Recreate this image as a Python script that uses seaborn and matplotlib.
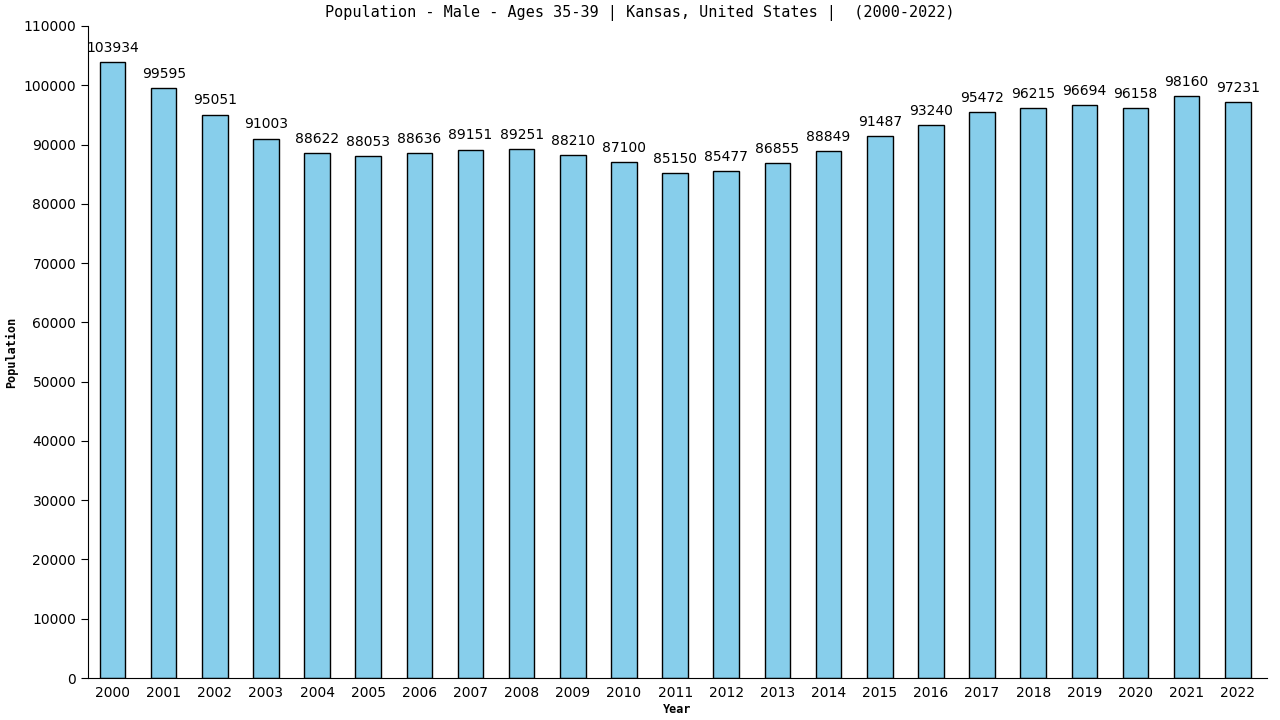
import pandas as pd
import matplotlib
matplotlib.use("Agg")
import matplotlib.pyplot as plt
import seaborn as sns

years = [str(y) for y in range(2000, 2023)]
population = [103934, 99595, 95051, 91003, 88622, 88053, 88636, 89151, 89251, 88210,
              87100, 85150, 85477, 86855, 88849, 91487, 93240, 95472, 96215, 96694,
              96158, 98160, 97231]

df = pd.DataFrame({"Year": years, "Population": population})

sns.set_style("ticks")
plt.rcParams['font.family'] = ['DejaVu Sans']
plt.rcParams['text.color'] = 'black'
plt.rcParams['axes.labelcolor'] = 'black'
plt.rcParams['xtick.color'] = 'black'
plt.rcParams['ytick.color'] = 'black'
plt.rcParams['axes.edgecolor'] = 'black'

fig = plt.figure(figsize=(12.8, 7.2), dpi=100)
ax = fig.add_axes([0.06875, 0.0583, 0.921, 0.9056])

sns.barplot(data=df, x="Year", y="Population", color="#87CEEB", edgecolor="black",
            linewidth=1, width=0.5, saturation=1, ax=ax)

for i, v in enumerate(population):
    ax.text(i, v + 1200, str(v), ha="center", va="bottom", fontsize=10, color="black")

ax.set_ylim(0, 110000)
ax.set_xlim(-0.48, 22.57)
ax.set_yticks(range(0, 110001, 10000))
ax.tick_params(axis="y", labelsize=10, length=5, direction="out", labelcolor="black")
ax.tick_params(axis="x", labelsize=10, length=0, pad=6, labelcolor="black")
ax.set_xlabel("Year", fontsize=8.5, fontweight="bold", family="DejaVu Sans Mono", labelpad=2)
ax.set_ylabel("Population", fontsize=8.5, fontweight="bold", family="DejaVu Sans Mono")
fig.text(0.5, 0.982, "Population - Male - Ages 35-39 | Kansas, United States |  (2000-2022)",
         ha="center", va="center", fontsize=10.9, family="DejaVu Sans Mono")
sns.despine(ax=ax)

fig.savefig("out.png", dpi=100)
